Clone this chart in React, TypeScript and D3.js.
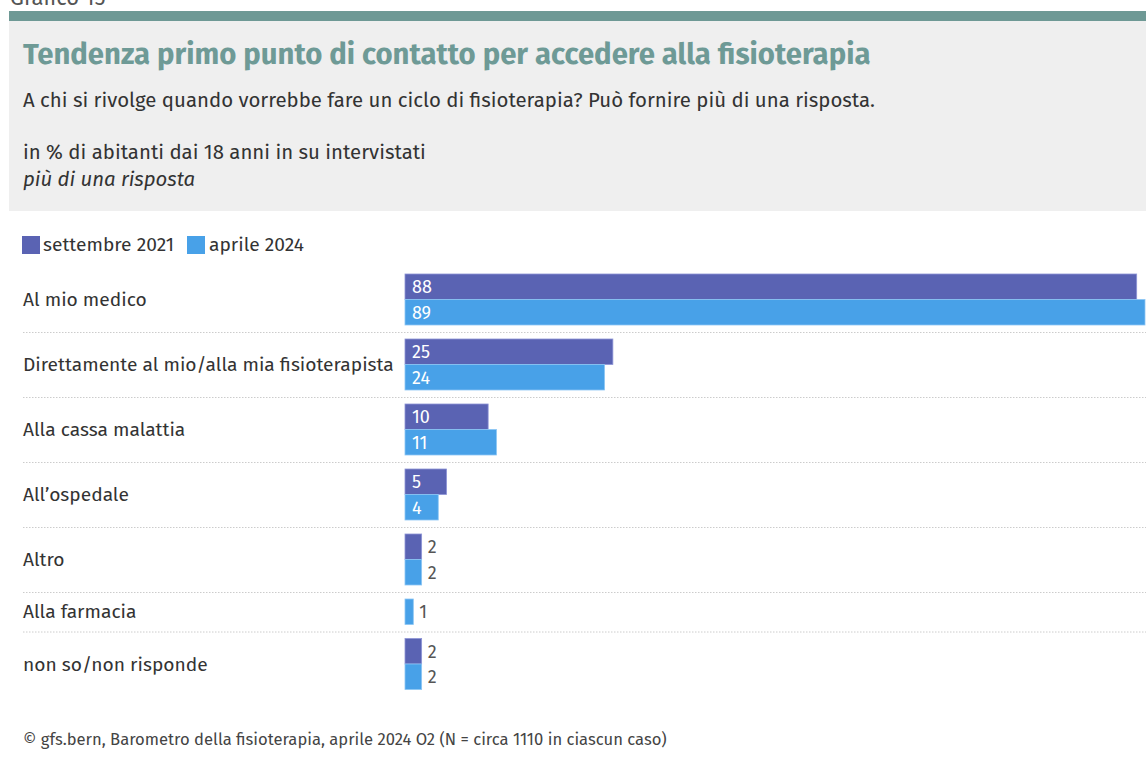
import React from "react";
import * as d3 from "d3";

const categories = [
  "Al mio medico",
  "Direttamente al mio/alla mia fisioterapista",
  "Alla cassa malattia",
  "All’ospedale",
  "Altro",
  "Alla farmacia",
  "non so/non risponde",
];
const series = ["settembre 2021", "aprile 2024"];
const sett2021: (number | null)[] = [88, 25, 10, 5, 2, null, 2];
const apr2024: (number | null)[] = [89, 24, 11, 4, 2, 1, 2];
const colors = ["#5a63b3", "#48a1e8"];
const strokes = ["#8e95d6", "#8cc6f4"];

const W = 1146;
const H = 760;
const FONT = "'Fira Sans', 'Noto Sans', 'Open Sans', sans-serif";

export default function App() {
  const x = d3.scaleLinear().domain([0, 89]).range([405, 1145]);
  const barH = 25.5;
  const pad = 7;
  let y = 267;
  const rows = categories.map((c, i) => {
    const vals = [sett2021[i], apr2024[i]]
      .map((v, s) => ({ v, s }))
      .filter((d) => d.v !== null) as { v: number; s: number }[];
    const top = y;
    const h = vals.length * barH + pad * 2;
    y += h;
    return { c, vals, top, h };
  });

  return (
    <svg
      width={W}
      height={H}
      style={{ position: "absolute", left: 0, top: 0, background: "#fff" }}
      fontFamily={FONT}
    >
      <text x={10} y={5} fontSize={22} fill="#555">Grafico 15</text>
      <rect x={9} y={11} width={W - 9} height={10} fill="#6e9995" />
      <rect x={9} y={21} width={W - 9} height={190} fill="#efefef" />
      <text x={23} y={64} fontSize={29.3} fontWeight={700} fill="#6e9a96">
        Tendenza primo punto di contatto per accedere alla fisioterapia
      </text>
      <text x={23} y={107} fontSize={20.4} fill="#333">
        A chi si rivolge quando vorrebbe fare un ciclo di fisioterapia? Può fornire più di una risposta.
      </text>
      <text x={23} y={159} fontSize={20.4} fill="#333">
        in % di abitanti dai 18 anni in su intervistati
      </text>
      <text x={23} y={186} fontSize={20.4} fill="#333" fontStyle="italic">
        più di una risposta
      </text>

      <g>
        <rect x={22} y={236} width={18} height={18} fill={colors[0]} />
        <text x={43} y={251} fontSize={19.2} fill="#333">{series[0]}</text>
        <rect x={187} y={236} width={18} height={18} fill={colors[1]} />
        <text x={209} y={251} fontSize={19.2} fill="#333">{series[1]}</text>
      </g>

      {rows.map((r, i) => (
        <g key={r.c}>
          <text
            x={23}
            y={r.top + r.h / 2}
            dy="0.35em"
            fontSize={19.2}
            fill="#333"
          >
            {r.c}
          </text>
          {r.vals.map((d, k) => {
            const by = r.top + pad + k * barH;
            const bw = x(d.v) - x(0);
            const inside = bw > 25;
            return (
              <g key={k}>
                <rect
                  x={x(0)}
                  y={by}
                  width={bw}
                  height={barH}
                  fill={colors[d.s]}
                  stroke={strokes[d.s]}
                  strokeWidth={0.8}
                />
                <text
                  x={inside ? x(0) + 7 : x(d.v) + 6}
                  y={by + barH / 2}
                  dy="0.36em"
                  fontSize={18}
                  fill={inside ? "#fff" : "#555"}
                >
                  {d.v}
                </text>
              </g>
            );
          })}
          {i < rows.length - 1 && (
            <line
              x1={23}
              x2={W}
              y1={r.top + r.h + 0.5}
              y2={r.top + r.h + 0.5}
              stroke="#ccc"
              strokeDasharray="1.5,1.5"
            />
          )}
        </g>
      ))}

      <text x={23} y={745} fontSize={16.6} fill="#444">
        © gfs.bern, Barometro della fisioterapia, aprile 2024 O2 (N = circa 1110 in ciascun caso)
      </text>
    </svg>
  );
}
